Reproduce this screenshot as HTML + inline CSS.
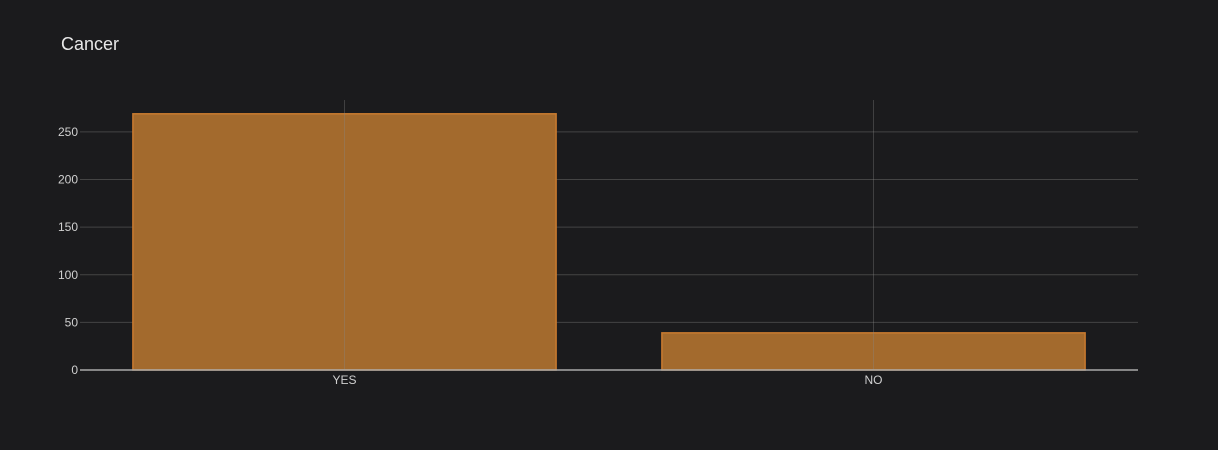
<!DOCTYPE html>
<html><head><meta charset="utf-8"><style>
html,body{margin:0;padding:0;background:#1b1b1d;}
svg{display:block;font-family:"Liberation Sans",sans-serif;}
</style></head><body>
<svg id="chart" width="1218" height="450">
<rect width="1218" height="450" fill="#1b1b1d"/>
<text x="61" y="50" fill="#e8e8e8" font-size="18">Cancer</text>
<g id="grid"></g><g id="bars"></g><g id="vgrid"></g><g id="axes"></g>
</svg>
<script>
const categories = ["YES", "NO"];
const values = [269, 39];
const yTicks = [0, 50, 100, 150, 200, 250];

const L = 80, R = 1138, T = 100, B = 370;
const yMax = 283.5;
const ns = "http://www.w3.org/2000/svg";
function y(v){ return B - v / yMax * (B - T); }
const band = (R - L) / categories.length;
function xc(i){ return L + band * (i + 0.5); }
function mk(tag, attrs, parent){
  const e = document.createElementNS(ns, tag);
  for (const k in attrs) e.setAttribute(k, attrs[k]);
  document.getElementById(parent).appendChild(e);
  return e;
}
yTicks.forEach(t => {
  if (t > 0) {
    const g = mk("line", {x1:L, x2:R, y1:y(t), y2:y(t), stroke:"#444", "stroke-width":1}, "grid");
    
    
  }
  const tx = mk("text", {x:L-2, y:y(t)+4, fill:"#d0d0d0", "font-size":12, "text-anchor":"end"}, "axes");
  tx.textContent = t;
  
  
});
categories.forEach((c, i) => {
  const w = band * 0.8;
  const b = mk("rect", {x:xc(i)-w/2, y:y(values[i]), width:w, height:B-y(values[i]), fill:"#a36a2d", stroke:"#c97b2f", "stroke-width":1.5}, "bars");
  
  
  const v = mk("line", {x1:xc(i), x2:xc(i), y1:T, y2:B, stroke:"#888", "stroke-opacity":0.35, "stroke-width":1}, "vgrid");
  
  
  const tx = mk("text", {x:xc(i), y:B+14, fill:"#d0d0d0", "font-size":12, "text-anchor":"middle"}, "axes");
  tx.textContent = c;
  
  
});
const zl = mk("line", {x1:L, x2:R, y1:B, y2:B, stroke:"#aaa", "stroke-width":1.5}, "axes");


</script>
</body></html>
